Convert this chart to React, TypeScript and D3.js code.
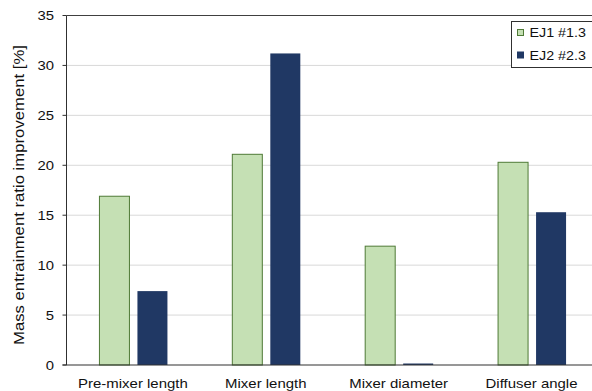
import React from "react";
import * as d3 from "d3";

const categories = ["Pre-mixer length", "Mixer length", "Mixer diameter", "Diffuser angle"];
const seriesNames = ["EJ1 #1.3", "EJ2 #2.3"];
const ej1Values = [16.9, 21.1, 11.9, 20.3];
const ej2Values = [7.4, 31.2, 0.15, 15.3];
const yTicks = [0, 5, 10, 15, 20, 25, 30, 35];

const W = 592;
const H = 391;
const M = { left: 66.5, right: 598, top: 15.5, bottom: 365 };

const fills = ["#c5e0b4", "#203864"];
const strokes = ["#4f7a36", "#203864"];

// Arial-like text drawn slightly wide
const stretch = 1.1;

export default function App() {
  const x = d3.scaleBand<string>().domain(categories).range([M.left, M.right]);
  const y = d3.scaleLinear().domain([0, 35]).range([M.bottom, M.top]);
  const barW = 30;
  const gap = 8;
  const series = [ej1Values, ej2Values];
  const font = "'Liberation Sans', Arial, sans-serif";

  return (
    <svg width={W} height={H} style={{ position: "absolute", left: 0, top: 0, background: "#fff" }} fontFamily={font}>
      <rect x={0} y={0} width={W} height={H} fill="#fff" />
      {/* grid */}
      {yTicks.filter((t) => t > 0 && t < 35).map((t) => (
        <line key={t} x1={M.left} x2={W} y1={y(t)} y2={y(t)} stroke="#d9d9d9" strokeWidth={1} />
      ))}
      {/* bars */}
      {categories.map((c, i) => {
        const cx = (x(c) as number) + x.bandwidth() / 2;
        return series.map((vals, s) => {
          const bx = s === 0 ? cx - gap / 2 - barW : cx + gap / 2;
          const top = y(vals[i]);
          return (
            <rect
              key={c + s}
              x={bx + 0.5}
              y={top}
              width={barW}
              height={M.bottom - top}
              fill={fills[s]}
              stroke={strokes[s]}
              strokeWidth={s === 0 ? 1 : 0}
            />
          );
        });
      })}
      {/* frame */}
      <line x1={M.left} x2={W} y1={M.top} y2={M.top} stroke="#404040" strokeWidth={1} />
      <line x1={M.left} x2={M.left} y1={M.top} y2={M.bottom} stroke="#303030" strokeWidth={1} />
      <line x1={M.left - 4} x2={W} y1={M.bottom} y2={M.bottom} stroke="#303030" strokeWidth={1.2} />
      {/* y ticks */}
      {yTicks.map((t) => (
        <g key={t}>
          <line x1={M.left - 4} x2={M.left} y1={y(t)} y2={y(t)} stroke="#303030" />
          <text
            x={54}
            y={y(t)}
            dy="0.35em"
            textAnchor="end"
            fontSize={13.5}
            fill="#111"
            transform={`translate(54,0) scale(${stretch},1) translate(-54,0)`}
          >
            {t}
          </text>
        </g>
      ))}
      {/* x labels */}
      {categories.map((c) => {
        const cx = (x(c) as number) + x.bandwidth() / 2;
        return (
          <text
            key={c}
            x={cx}
            y={388}
            textAnchor="middle"
            fontSize={13}
            fill="#111"
            transform={`translate(${cx},0) scale(${stretch + 0.05},1) translate(${-cx},0)`}
          >
            {c}
          </text>
        );
      })}
      {/* y label */}
      <text
        transform={`translate(23.5,195) rotate(-90)`}
        textAnchor="middle"
        fontSize={14}
        fill="#111"
        textLength={300}
        lengthAdjust="spacingAndGlyphs"
      >
        Mass entrainment ratio improvement [%]
      </text>
      {/* legend */}
      <rect x={511.5} y={21.5} width={82} height={46} fill="#fff" stroke="#303030" strokeWidth={1} />
      {seriesNames.map((n, i) => (
        <g key={n}>
          <rect
            x={517.5}
            y={29.5 + i * 22.5}
            width={6}
            height={6}
            fill={fills[i]}
            stroke={strokes[i]}
            strokeWidth={1}
          />
          <text
            x={529.5}
            y={37.5 + i * 22.5}
            fontSize={13}
            fill="#111"
            transform={`translate(529.5,0) scale(${stretch},1) translate(-529.5,0)`}
          >
            {n}
          </text>
        </g>
      ))}
    </svg>
  );
}
